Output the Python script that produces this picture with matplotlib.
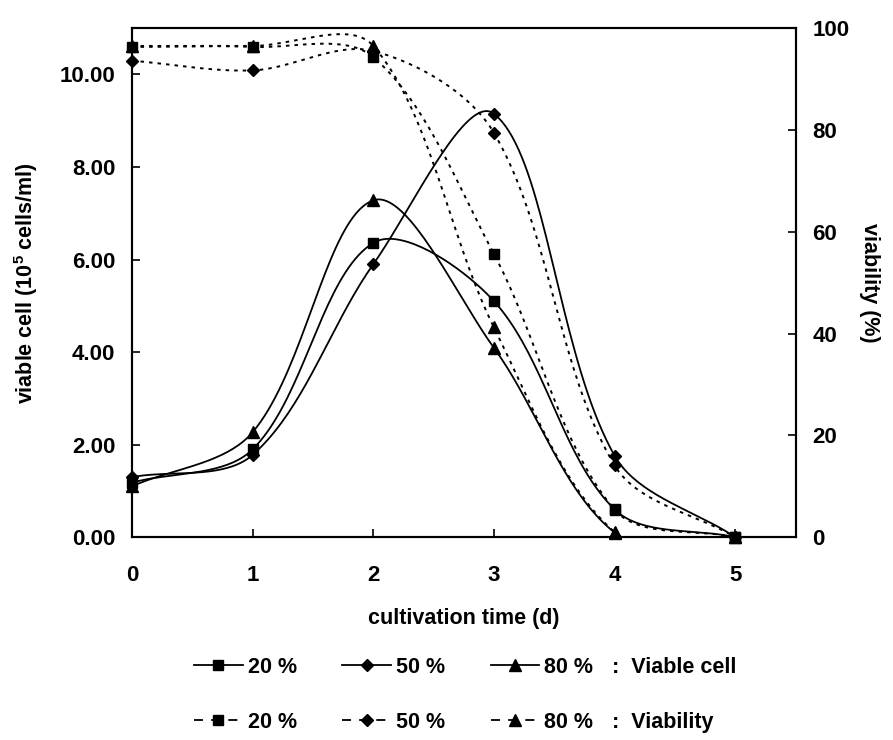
import numpy as np
import matplotlib.pyplot as plt
from matplotlib.lines import Line2D

plt.rcParams['font.family'] = ['Liberation Sans', 'DejaVu Sans']
plt.rcParams['font.weight'] = 'bold'
plt.rcParams['mathtext.fontset'] = 'custom'
plt.rcParams['mathtext.rm'] = 'Liberation Sans:bold'
plt.rcParams['mathtext.bf'] = 'Liberation Sans:bold'

# cultivation day
days = [0, 1, 2, 3, 4, 5]
# viable cell (10^5 cells/ml)
cell_20 = [1.18, 1.90, 6.36, 5.10, 0.60, 0.0]
cell_50 = [1.30, 1.78, 5.90, 9.15, 1.76, 0.0]
cell_80 = [1.10, 2.27, 7.28, 4.09, 0.10, 0.0]
# viability (%)
via_20 = [96.3, 96.3, 94.3, 55.6, 5.4, 0.0]
via_50 = [93.6, 91.7, 95.5, 79.4, 14.1, 0.0]
via_80 = [96.5, 96.5, 96.5, 41.2, 1.0, 0.0]

labels = ['20 %', '50 %', '80 %']
markers = ['s', 'D', '^']
msizes = [7.5, 6.5, 8.5]


def smooth(a, x, y, n=40):
    # excel-like smoothed line, bezier built in screen space
    P = a.transData.transform(np.column_stack([x, y]).astype(float))
    Q = np.vstack([P[:1], P, P[-1:]])
    d = np.hypot(*np.diff(Q, axis=0).T)  # d[k] = |Q[k+1]-Q[k]|
    t = np.linspace(0, 1, n)[:, None]
    out = []
    for i in range(len(P) - 1):
        p0, p3 = P[i], P[i + 1]
        dl, dm, dr = d[i], d[i + 1], d[i + 2]
        c1 = p0 + (Q[i + 2] - Q[i]) * dm / (dl + dm) / 3
        c2 = p3 - (Q[i + 3] - Q[i + 1]) * dm / (dm + dr) / 3
        out.append((1 - t) ** 3 * p0 + 3 * (1 - t) ** 2 * t * c1
                   + 3 * (1 - t) * t ** 2 * c2 + t ** 3 * p3)
    out = a.transData.inverted().transform(np.vstack(out))
    return out[:, 0], out[:, 1]


fig = plt.figure(figsize=(8.93, 7.40), dpi=100)
ax = fig.add_axes([0.1478, 0.274, 0.7432, 0.688])
ax2 = ax.twinx()

ax.set_xlim(0, 5.5)
ax.set_ylim(0, 11)
ax2.set_ylim(0, 100)

dash = (0, (1.8, 2.6))
for vals, m, ms in zip([cell_20, cell_50, cell_80], markers, msizes):
    sx, sy = smooth(ax, days, vals)
    ax.plot(sx, sy, color='black', lw=1.3)
    ax.plot(days, vals, color='black', marker=m, ms=ms, linestyle='none', clip_on=False)
for vals, m, ms in zip([via_20, via_50, via_80], markers, msizes):
    sx, sy = smooth(ax2, days, vals)
    ax2.plot(sx, sy, color='black', lw=1.4, linestyle=dash)
    ax2.plot(days, vals, color='black', marker=m, ms=ms, linestyle='none', clip_on=False)

ax.set_xticks(days)
ax.set_yticks(np.arange(0, 11, 2))
ax.set_yticklabels(['%.2f' % v for v in np.arange(0, 11, 2)])
ax2.set_yticks(np.arange(0, 101, 20))

for a in (ax, ax2):
    for s in a.spines.values():
        s.set_linewidth(1.5)
ax.tick_params(direction='in', length=6, width=1.2, labelsize=16, pad=12)
ax.tick_params(axis='x', pad=20)
ax2.tick_params(direction='in', length=6, width=1.2, labelsize=16, pad=12)

ax.set_xlabel('cultivation time (d)', fontsize=15.5, fontweight='bold', labelpad=16)
ax.set_ylabel('viable cell (10$^{5}$ cells/ml)', fontsize=15.5, fontweight='bold', labelpad=14)
ax2.set_ylabel('viability (%)', fontsize=15.5, fontweight='bold', rotation=270, labelpad=22)

# legend rows
solid_h = [Line2D([], [], color='black', lw=1.3, marker=m, ms=ms) for m, ms in zip(markers, msizes)]
dash_h = [Line2D([], [], color='black', lw=1.3, linestyle=(0, (5, 4.5)), marker=m, ms=ms)
          for m, ms in zip(markers, msizes)]
leg_kw = dict(ncol=3, frameon=False, fontsize=15.5, handlelength=2.25, handletextpad=0.25,
              columnspacing=2.1, loc='center')
fig.legend(solid_h, labels, bbox_to_anchor=(0.441, 0.0986), **leg_kw)
fig.legend(dash_h, labels, bbox_to_anchor=(0.441, 0.0243), **leg_kw)
fig.text(0.685, 0.0986, ':  Viable cell', fontsize=15.5, fontweight='bold', va='center')
fig.text(0.685, 0.0243, ':  Viability', fontsize=15.5, fontweight='bold', va='center')

fig.savefig('out.png', dpi=100)
